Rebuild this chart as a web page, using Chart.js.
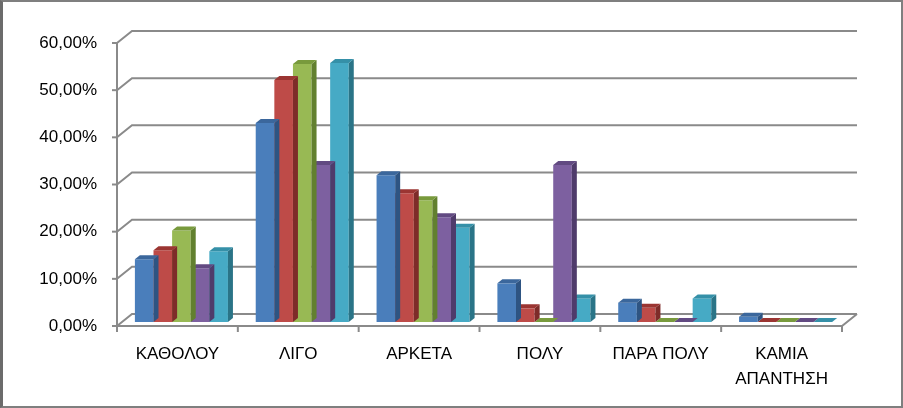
<!DOCTYPE html>
<html>
<head>
<meta charset="utf-8">
<script src="https://cdn.jsdelivr.net/npm/chart.js@4/dist/chart.umd.min.js"></script>
<style>
  html, body { margin: 0; padding: 0; background: #fff; }
  #wrap { width: 903px; height: 408px; position: relative; box-sizing: border-box; }
  #frame { position: absolute; left: 0; top: 0; width: 903px; height: 408px; box-sizing: border-box; border: 2px solid #7f7f7f; border-left: 3px solid #6b6b6b; pointer-events: none; }
</style>
</head>
<body>
<div id="wrap">
  <canvas id="canvas" width="903" height="408"></canvas>
  <div id="frame"></div>
</div>
<script>
var categories = ['ΚΑΘΟΛΟΥ', 'ΛΙΓΟ', 'ΑΡΚΕΤΑ', 'ΠΟΛΥ', 'ΠΑΡΑ ΠΟΛΥ', ['ΚΑΜΙΑ', 'ΑΠΑΝΤΗΣΗ']];
var series1 = [13.3, 42.2, 31.1, 8.2, 4.1, 1.1];
var series2 = [15.2, 51.3, 27.3, 2.9, 3.0, 0];
var series3 = [19.4, 54.7, 25.8, 0, 0, 0];
var series4 = [11.4, 33.3, 22.2, 33.3, 0, 0];
var series5 = [15.0, 54.9, 20.0, 5.0, 5.0, 0];
var yTicks = [0, 10, 20, 30, 40, 50, 60];

var fronts = ['#4A7EBB', '#BE4B48', '#98B954', '#7D60A0', '#46AAC5'];
var tops   = ['#3B679C', '#9B3532', '#789A3C', '#624A82', '#3590A8'];
var sides  = ['#2E5482', '#7E2C29', '#62802F', '#4F3B6B', '#2A7487'];

// depth of the back wall and of the bars
var wallDx = 15, wallDy = -12;
var barShiftX = 4, barShiftY = -4;
var barDx = 5, barDy = -4;

var walls = {
	id: 'walls',
	beforeDatasetsDraw: function(chart){
		var ctx = chart.ctx, a = chart.chartArea, y = chart.scales.y;
		ctx.save();
		ctx.strokeStyle = '#8a8a8a';
		ctx.lineWidth = 2;
		yTicks.forEach(function(v){
			var py = y.getPixelForValue(v);
			ctx.beginPath();
			ctx.moveTo(a.left, py);
			ctx.lineTo(a.left + wallDx, py + wallDy);
			ctx.lineTo(a.right + wallDx, py + wallDy);
			ctx.stroke();
			// front tick
			ctx.beginPath();
			ctx.moveTo(a.left - 5, py);
			ctx.lineTo(a.left, py);
			ctx.stroke();
		});
		// front axis
		ctx.beginPath();
		ctx.moveTo(a.left, y.getPixelForValue(60));
		ctx.lineTo(a.left, a.bottom);
		ctx.lineTo(a.right, a.bottom);
		ctx.lineTo(a.right + wallDx, a.bottom + wallDy);
		ctx.stroke();
		// category ticks
		for (var i = 0; i <= categories.length; i++) {
			var px = a.left + (a.right - a.left) * i / categories.length;
			ctx.beginPath();
			ctx.moveTo(px, a.bottom);
			ctx.lineTo(px, a.bottom + 6);
			ctx.stroke();
		}
		ctx.restore();
		ctx.save();
		ctx.translate(barShiftX, barShiftY);
	},
	afterDatasetDraw: function(chart, args){
		var ctx = chart.ctx;
		var i = args.index;
		args.meta.data.forEach(function(bar){
			var p = bar.getProps(['x', 'y', 'base', 'width'], true);
			var x1 = p.x - p.width / 2, x2 = p.x + p.width / 2;
			ctx.fillStyle = sides[i];
			ctx.beginPath();
			ctx.moveTo(x2, p.y);
			ctx.lineTo(x2 + barDx, p.y + barDy);
			ctx.lineTo(x2 + barDx, p.base + barDy);
			ctx.lineTo(x2, p.base);
			ctx.closePath();
			ctx.fill();
			ctx.fillStyle = tops[i];
			ctx.beginPath();
			ctx.moveTo(x1, p.y);
			ctx.lineTo(x2, p.y);
			ctx.lineTo(x2 + barDx, p.y + barDy);
			ctx.lineTo(x1 + barDx, p.y + barDy);
			ctx.closePath();
			ctx.fill();
		});
	},
	afterDatasetsDraw: function(chart){
		chart.ctx.restore();
	}
};

var ctx = document.getElementById('canvas').getContext('2d');
var chart = new Chart(ctx, {
	type: 'bar',
	data: {
		labels: categories,
		datasets: [
			{ data: series1, backgroundColor: fronts[0] },
			{ data: series2, backgroundColor: fronts[1] },
			{ data: series3, backgroundColor: fronts[2] },
			{ data: series4, backgroundColor: fronts[3] },
			{ data: series5, backgroundColor: fronts[4] }
		]
	},
	options: {
		responsive: false,
		animation: false,
		maintainAspectRatio: false,
		events: [],
		layout: { padding: { top: 43, right: 61, left: 0, bottom: 0 } },
		datasets: { bar: { categoryPercentage: 0.77, barPercentage: 1.0 } },
		plugins: { legend: { display: false }, tooltip: { enabled: false } },
		scales: {
			x: {
				grid: { display: false, drawTicks: false },
				border: { display: false },
				ticks: {
					color: '#000', padding: 16, maxRotation: 0, autoSkip: false,
					font: { family: 'Liberation Sans', size: 17, lineHeight: 1.45 }
				},
				afterFit: function(s){ s.height = 82; }
			},
			y: {
				min: 0, max: 60,
				grid: { display: false, drawTicks: false },
				border: { display: false },
				ticks: {
					stepSize: 10, color: '#000', padding: 20,
					font: { family: 'Liberation Sans', size: 17 },
					callback: function(v){ return v.toFixed(2).replace('.', ',') + '%'; }
				},
				afterFit: function(s){ s.width = 117; }
			}
		}
	},
	plugins: [walls]
});
</script>
</body>
</html>
